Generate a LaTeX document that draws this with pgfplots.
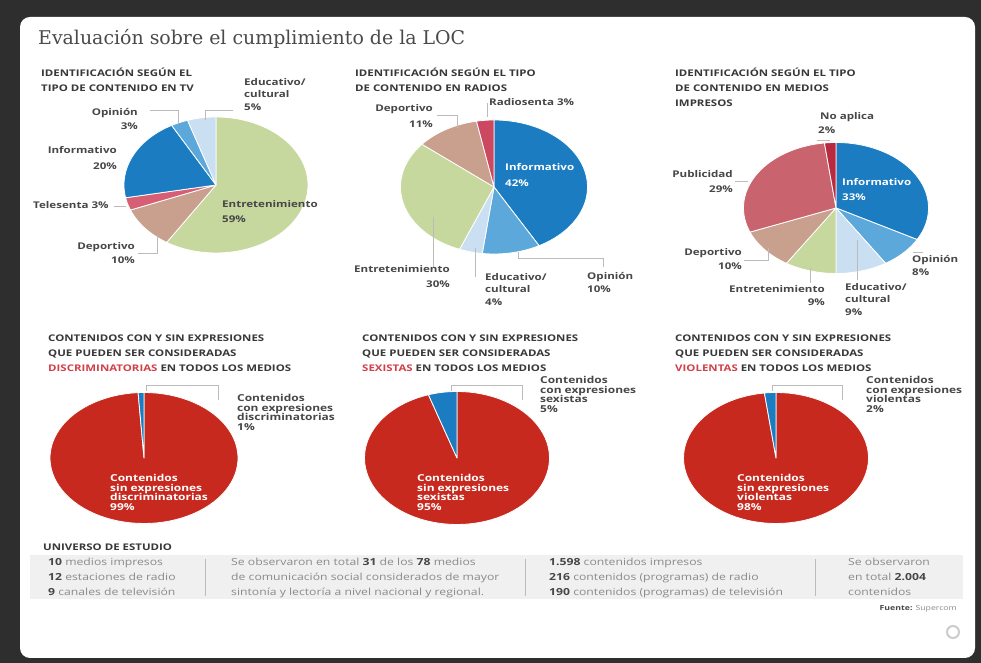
\documentclass[border=0pt]{standalone}
\usepackage{fontspec}
\setmainfont{Open Sans}[FakeStretch=1.25]
\newfontfamily\titlefont{DejaVu Serif}
\usepackage{pgfplots}
\pgfplotsset{compat=1.18}

\definecolor{bgdark}{HTML}{2E2E2E}
\definecolor{cInf}{HTML}{1B7CC1}
\definecolor{cOpi}{HTML}{5DA8DB}
\definecolor{cEdu}{HTML}{CADFF1}
\definecolor{cEnt}{HTML}{C6D89E}
\definecolor{cDep}{HTML}{C9A08D}
\definecolor{cTel}{HTML}{D65F74}
\definecolor{cRad}{HTML}{CC4760}
\definecolor{cPub}{HTML}{C9636D}
\definecolor{cNoA}{HTML}{B92A40}
\definecolor{cRed}{HTML}{C7291F}
\definecolor{cHead}{HTML}{383838}
\definecolor{cLab}{HTML}{474747}
\definecolor{cBand}{HTML}{F0F0F0}
\definecolor{cBandTxt}{HTML}{8A8A8A}
\definecolor{cTitle}{HTML}{4A4A4A}
\definecolor{cHRed}{HTML}{D2404A}
\definecolor{cLine}{HTML}{BBBBBB}

\pgfplotsset{pie/.style={hide axis, scale only axis, xmin=-1, xmax=1, ymin=-1, ymax=1, anchor=center, clip=false}}
% #1 = cumulative percent before the slice, #2 = slice percent, #3 = colour
\newcommand{\slice}[3]{\addplot[fill=#3, draw=white, line width=0.8bp, line join=round, domain={90-3.6*(#1+#2)}:{90-3.6*(#1)}, samples=90, variable=\t] ({cos(\t)},{sin(\t)}) -- (axis cs:0,0) -- cycle;}

\newcommand{\hd}{\fontsize{9.2}{10}\selectfont\bfseries\color{cHead}}
\newcommand{\lb}{\fontsize{9.3}{10}\selectfont\bfseries\color{cLab}}
\newcommand{\lw}{\fontsize{9.3}{10}\selectfont\bfseries\color{white}}
\newcommand{\ls}{\fontsize{9.6}{10}\selectfont\bfseries\color{cLab}}
\newcommand{\lsw}{\fontsize{9.6}{10}\selectfont\bfseries\color{white}}
\newcommand{\bd}{\fontsize{9.8}{11}\selectfont\color{cBandTxt}}
\newcommand{\bn}[1]{{\bfseries\color{cLab}#1}}

\begin{document}
\begin{tikzpicture}[x=1bp, y=1bp]
\fill[bgdark] (0,0) rectangle (981,663);
\fill[white, rounded corners=10bp] (20,5) rectangle (975,646);

% ---------- Pies (positions in bp, y measured upwards) ----------
\begin{axis}[pie, at={(216bp,478bp)}, width=184bp, height=136bp]
\slice{0}{59}{cEnt}
\slice{59}{10}{cDep}
\slice{69}{3}{cTel}
\slice{72}{20}{cInf}
\slice{92}{3}{cOpi}
\slice{95}{5}{cEdu}
\end{axis}
\begin{axis}[pie, at={(494bp,476bp)}, width=187bp, height=134bp]
\slice{0}{42}{cInf}
\slice{42}{10}{cOpi}
\slice{52}{4}{cEdu}
\slice{56}{30}{cEnt}
\slice{86}{11}{cDep}
\slice{97}{3}{cRad}
\end{axis}
\begin{axis}[pie, at={(836bp,455bp)}, width=185bp, height=131bp]
\slice{0}{33}{cInf}
\slice{33}{8}{cOpi}
\slice{41}{9}{cEdu}
\slice{50}{9}{cEnt}
\slice{59}{10}{cDep}
\slice{69}{29}{cPub}
\slice{98}{2}{cNoA}
\end{axis}
\begin{axis}[pie, at={(144bp,205bp)}, width=188bp, height=131bp]
\slice{0}{99}{cRed}
\slice{99}{1}{cInf}
\end{axis}
\begin{axis}[pie, at={(457bp,205bp)}, width=185bp, height=133bp]
\slice{0}{95}{cRed}
\slice{95}{5}{cInf}
\end{axis}
\begin{axis}[pie, at={(776bp,205bp)}, width=185bp, height=131bp]
\slice{0}{98}{cRed}
\slice{98}{2}{cInf}
\end{axis}

% ---------- Text and leader lines (y measured downwards) ----------
\begin{scope}[shift={(0,663)}, y=-1bp,
  L/.style={anchor=base west, inner sep=0},
  R/.style={anchor=base east, inner sep=0},
  ld/.style={draw=cLine, line width=0.6bp}]

\node[L, font=\titlefont\fontsize{19}{19}\selectfont, text=cTitle] at (38,45) {Evaluación sobre el cumplimiento de la LOC};

% TV
\node[L, font=\hd] at (41,76.5) {IDENTIFICACIÓN SEGÚN EL};
\node[L, font=\hd] at (41,91.5) {TIPO DE CONTENIDO EN TV};
\node[L, font=\lb] at (244,86) {Educativo/};
\node[L, font=\lb] at (244,98) {cultural};
\node[L, font=\lb] at (244,111) {5\%};
\node[R, font=\lb] at (138,116) {Opinión};
\node[R, font=\lb] at (138,130) {3\%};
\node[R, font=\lb] at (117,154) {Informativo};
\node[R, font=\lb] at (117,170) {20\%};
\node[L, font=\lb] at (33,209) {Telesenta 3\%};
\node[L, font=\lb] at (222,208) {Entretenimiento};
\node[L, font=\lb] at (222,223) {59\%};
\node[R, font=\lb] at (135,250) {Deportivo};
\node[R, font=\lb] at (135,264) {10\%};
\draw[ld] (150,110) -- (178,110) -- (178,123);
\draw[ld] (233,110) -- (205,110) -- (205,120);
\draw[ld] (138,253) -- (157,253) -- (157,235);
\draw[ld] (114,206) -- (126,206);

% Radios
\node[L, font=\hd] at (355,76.5) {IDENTIFICACIÓN SEGÚN EL TIPO};
\node[L, font=\hd] at (355,91.5) {DE CONTENIDO EN RADIOS};
\node[R, font=\lb] at (433,112) {Deportivo};
\node[R, font=\lb] at (433,128) {11\%};
\node[L, font=\lb] at (489,106) {Radiosenta 3\%};
\node[L, font=\lw] at (505,171) {Informativo};
\node[L, font=\lw] at (505,187) {42\%};
\node[R, font=\lb] at (450,273) {Entretenimiento};
\node[R, font=\lb] at (450,288) {30\%};
\node[L, font=\lb] at (485,281) {Educativo/};
\node[L, font=\lb] at (485,293) {cultural};
\node[L, font=\lb] at (485,306) {4\%};
\node[L, font=\lb] at (587,280) {Opinión};
\node[L, font=\lb] at (587,293) {10\%};
\draw[ld] (437,115) -- (457,115) -- (457,128);
\draw[ld] (487,103) -- (487,117);
\draw[ld] (433,217) -- (433,267);
\draw[ld] (475,248) -- (475,277);
\draw[ld] (518,252) -- (518,258) -- (603,258) -- (603,267);

% Impresos
\node[L, font=\hd] at (675,76.5) {IDENTIFICACIÓN SEGÚN EL TIPO};
\node[L, font=\hd] at (675,91.5) {DE CONTENIDO EN MEDIOS};
\node[L, font=\hd] at (675,106.5) {IMPRESOS};
\node[L, font=\lb] at (820,120) {No aplica};
\node[L, font=\lb] at (818,134) {2\%};
\node[R, font=\lb] at (733,178) {Publicidad};
\node[R, font=\lb] at (733,193) {29\%};
\node[L, font=\lw] at (842,186) {Informativo};
\node[L, font=\lw] at (842,201) {33\%};
\node[R, font=\lb] at (742,256) {Deportivo};
\node[R, font=\lb] at (742,270) {10\%};
\node[R, font=\lb] at (825,293) {Entretenimiento};
\node[R, font=\lb] at (825,306) {9\%};
\node[L, font=\lb] at (845,291) {Educativo/};
\node[L, font=\lb] at (845,303) {cultural};
\node[L, font=\lb] at (845,316) {9\%};
\node[L, font=\lb] at (912,263) {Opinión};
\node[L, font=\lb] at (912,276) {8\%};
\draw[ld] (817,140) -- (830,140);
\draw[ld] (735,181) -- (748,181);
\draw[ld] (744,260) -- (768,260) -- (768,248);
\draw[ld] (810,268) -- (810,283);
\draw[ld] (857,240) -- (857,280);
\draw[ld] (913,252) -- (923,252);

% Discriminatorias
\node[L, font=\hd] at (48,341.5) {CONTENIDOS CON Y SIN EXPRESIONES};
\node[L, font=\hd] at (48,356.5) {QUE PUEDEN SER CONSIDERADAS};
\node[L, font=\hd] at (48,371.5) {{\color{cHRed}DISCRIMINATORIAS} EN TODOS LOS MEDIOS};
\node[L, font=\ls] at (237,402) {Contenidos};
\node[L, font=\ls] at (237,411.5) {con expresiones};
\node[L, font=\ls] at (237,421) {discriminatorias};
\node[L, font=\ls] at (237,430.5) {1\%};
\node[L, font=\lsw] at (110,482) {Contenidos};
\node[L, font=\lsw] at (110,491.5) {sin expresiones};
\node[L, font=\lsw] at (110,501) {discriminatorias};
\node[L, font=\lsw] at (110,510.5) {99\%};
\draw[ld] (146,391) -- (146,385) -- (218,385) -- (218,400);

% Sexistas
\node[L, font=\hd] at (362,341.5) {CONTENIDOS CON Y SIN EXPRESIONES};
\node[L, font=\hd] at (362,356.5) {QUE PUEDEN SER CONSIDERADAS};
\node[L, font=\hd] at (362,371.5) {{\color{cHRed}SEXISTAS} EN TODOS LOS MEDIOS};
\node[L, font=\ls] at (540,384) {Contenidos};
\node[L, font=\ls] at (540,393.5) {con expresiones};
\node[L, font=\ls] at (540,403) {sexistas};
\node[L, font=\ls] at (540,412.5) {5\%};
\node[L, font=\lsw] at (417,482) {Contenidos};
\node[L, font=\lsw] at (417,491.5) {sin expresiones};
\node[L, font=\lsw] at (417,501) {sexistas};
\node[L, font=\lsw] at (417,510.5) {95\%};
\draw[ld] (451,391) -- (451,385) -- (522,385) -- (522,400);

% Violentas
\node[L, font=\hd] at (675,341.5) {CONTENIDOS CON Y SIN EXPRESIONES};
\node[L, font=\hd] at (675,356.5) {QUE PUEDEN SER CONSIDERADAS};
\node[L, font=\hd] at (675,371.5) {{\color{cHRed}VIOLENTAS} EN TODOS LOS MEDIOS};
\node[L, font=\ls] at (866,384) {Contenidos};
\node[L, font=\ls] at (866,393.5) {con expresiones};
\node[L, font=\ls] at (866,403) {violentas};
\node[L, font=\ls] at (866,412.5) {2\%};
\node[L, font=\lsw] at (737,482) {Contenidos};
\node[L, font=\lsw] at (737,491.5) {sin expresiones};
\node[L, font=\lsw] at (737,501) {violentas};
\node[L, font=\lsw] at (737,510.5) {98\%};
\draw[ld] (772,391) -- (772,385) -- (842,385) -- (842,400);

% Universo de estudio
\node[L, font=\hd] at (43,551) {UNIVERSO DE ESTUDIO};
\fill[cBand] (30,555) rectangle (963,599);
\draw[cLine, line width=0.7bp] (205,559) -- (205,596);
\draw[cLine, line width=0.7bp] (525,559) -- (525,596);
\draw[cLine, line width=0.7bp] (815,559) -- (815,596);
\node[L, font=\bd] at (48,566) {\bn{10} medios impresos};
\node[L, font=\bd] at (48,581) {\bn{12} estaciones de radio};
\node[L, font=\bd] at (48,596) {\bn{9} canales de televisión};
\node[L, font=\bd] at (231,566) {Se observaron en total \bn{31} de los \bn{78} medios};
\node[L, font=\bd] at (231,581) {de comunicación social considerados de mayor};
\node[L, font=\bd] at (231,596) {sintonía y lectoría a nivel nacional y regional.};
\node[L, font=\bd] at (549,566) {\bn{1.598} contenidos impresos};
\node[L, font=\bd] at (549,581) {\bn{216} contenidos (programas) de radio};
\node[L, font=\bd] at (549,596) {\bn{190} contenidos (programas) de televisión};
\node[L, font=\bd] at (848,566) {Se observaron};
\node[L, font=\bd] at (848,581) {en total \bn{2.004}};
\node[L, font=\bd] at (848,596) {contenidos};
\node[R, font=\fontsize{7}{8}\selectfont\color{cBandTxt}] at (957,611) {\bn{Fuente:} Supercom};
\draw[gray!40, line width=2bp] (953,632) circle (6);
\end{scope}
\end{tikzpicture}
\end{document}
